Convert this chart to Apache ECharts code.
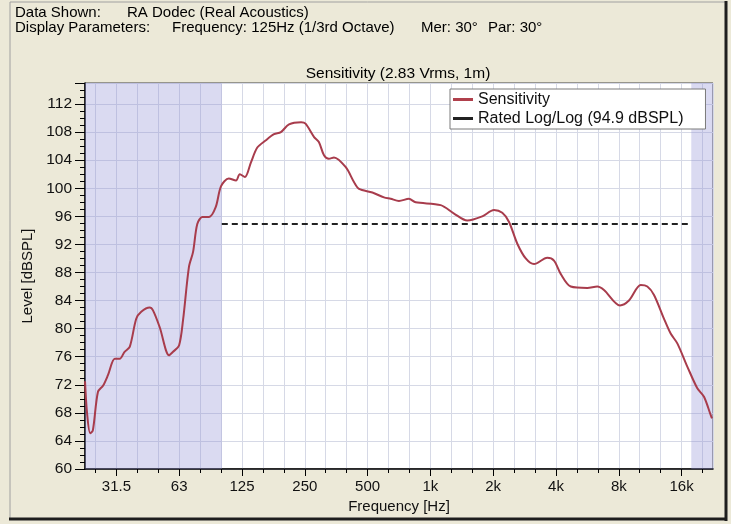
<!DOCTYPE html>
<html>
<head>
<meta charset="utf-8">
<script src="https://cdn.jsdelivr.net/npm/echarts@6/dist/echarts.min.js"></script>
<style>
html, body { margin: 0; padding: 0; background: #ece9d8; }
#sensChart { width: 731px; height: 524px; }
</style>
</head>
<body>
<div id="sensChart"></div>
<script>
// frequency points (Hz) and their level (dBSPL)
var freqHz = [
	22.1, 22.6, 23.4, 24.1, 25.5, 27.0, 28.5, 30.7, 32.4, 34.2,
	36.2, 38.9, 41.1, 45.1, 46.8, 50.4, 55.9, 58.4, 62.4, 65.2,
	69.6, 72.8, 76.3, 80.7, 86.9, 93.5, 99.2, 108, 117, 122,
	129, 138, 148, 162, 178, 192, 210, 240, 252, 277,
	292, 309, 326, 345, 393, 430, 455, 527, 599, 645,
	707, 789, 850, 1120, 1298, 1503, 1773, 2018, 2211, 2382,
	2610, 2864, 3138, 3633, 3912, 4213, 4705, 5650, 6311, 6793,
	8106, 8950, 10190, 10960, 11800, 13180, 14180, 15260, 17040, 19030,
	20490, 22050, 22380
];
var levelDb = [
	72.5, 68.0, 65.1, 65.5, 71.0, 71.9, 73.4, 75.7, 75.7, 76.7,
	77.4, 81.4, 82.4, 83.0, 82.6, 80.2, 76.2, 76.7, 77.6, 81.2,
	88.8, 90.9, 94.9, 95.9, 95.9, 97.3, 100.3, 101.4, 101.1, 102.0,
	101.6, 103.7, 105.8, 106.8, 107.7, 108.0, 109.1, 109.4, 109.2, 107.3,
	106.6, 104.7, 104.2, 104.4, 103.0, 100.9, 99.9, 99.4, 98.7, 98.5,
	98.2, 98.5, 98.0, 97.6, 96.4, 95.4, 96.0, 96.9, 96.5, 95.2,
	92.1, 90.0, 89.2, 90.1, 89.7, 87.8, 86.0, 85.8, 86.0, 85.5,
	83.3, 84.0, 86.2, 86.0, 84.8, 81.4, 79.3, 77.9, 74.6, 71.5,
	70.3, 67.7, 67.2
];

var ratedLevel = 94.9;
var ratedFromHz = 100;
var ratedToHz = 17800;
var shadeLowHz = [22.1, 100];
var shadeHighHz = [17800, 22627];

var octaveHz = [31.25, 62.5, 125, 250, 500, 1000, 2000, 4000, 8000, 16000];
var octaveLabels = ['31.5', '63', '125', '250', '500', '1k', '2k', '4k', '8k', '16k'];

var seriesNames = ['Sensitivity', 'Rated Log/Log (94.9 dBSPL)'];

var FONT = '"Liberation Sans", Arial, sans-serif';
var gridColor = '#d6d9e6';

// x axis runs in octaves relative to 1 kHz
function oct(f) {
	return Math.log2(f / 1000);
}

var thirdTicks = [];
for (var k = -16; k <= 13; k++) {
	thirdTicks.push(k / 3);
}

var sensData = freqHz.map(function (f, i) {
	return [oct(f), levelDb[i]];
});

var option = {
	animation: false,
	backgroundColor: '#ece9d8',
	textStyle: { fontFamily: FONT },
	grid: {
		left: 85,
		right: 18,
		top: 83,
		bottom: 55,
		show: true,
		backgroundColor: '#fff',
		borderColor: '#404040',
		borderWidth: 1
	},
	legend: {
		data: seriesNames,
		orient: 'vertical',
		left: 450,
		top: 89,
		icon: 'rect',
		itemWidth: 20,
		itemHeight: 3,
		itemGap: 2,
		padding: [2, 22, 2, 3],
		backgroundColor: '#fff',
		borderColor: '#7a7a7a',
		borderWidth: 1,
		selectedMode: false,
		textStyle: { fontSize: 16, color: '#111', fontFamily: FONT, lineHeight: 17 }
	},
	xAxis: [
		{
			// third-octave ticks
			type: 'value',
			min: -5.5,
			max: 4.5,
			axisLine: { onZero: false, lineStyle: { color: '#000', width: 1.5 } },
			axisTick: { customValues: thirdTicks, length: 4, lineStyle: { color: '#000' } },
			axisLabel: { show: false },
			splitLine: { show: false }
		},
		{
			// octave labels
			type: 'value',
			position: 'bottom',
			min: -5.5,
			max: 4.5,
			name: 'Frequency [Hz]',
			nameLocation: 'middle',
			nameGap: 27,
			nameTextStyle: { fontSize: 15, color: '#111', fontFamily: FONT },
			axisLine: { show: false, onZero: false },
			axisTick: { customValues: octaveHz.map(oct), length: 7, lineStyle: { color: '#000' } },
			axisLabel: {
				customValues: octaveHz.map(oct),
				margin: 10,
				fontSize: 15,
				color: '#111',
				fontFamily: FONT,
				formatter: function (v) {
					for (var i = 0; i < octaveHz.length; i++) {
						if (Math.abs(oct(octaveHz[i]) - v) < 0.01) return octaveLabels[i];
					}
					return '';
				}
			},
			splitLine: { show: false }
		},
		{
			// grid in third-octave steps: 30 steps across the 10 octaves
			type: 'value',
			position: 'bottom',
			min: -0.5,
			max: 29.5,
			splitNumber: 30,
			axisLine: { show: false, onZero: false },
			axisTick: { show: false },
			axisLabel: { show: false },
			splitLine: { show: true, lineStyle: { color: gridColor } }
		}
	],
	yAxis: {
		type: 'value',
		min: 60,
		max: 115,
		interval: 4,
		name: 'Level [dBSPL]',
		nameLocation: 'middle',
		nameGap: 48,
		nameTextStyle: { fontSize: 15, color: '#111', fontFamily: FONT },
		axisLine: { show: true, onZero: false, lineStyle: { color: '#000', width: 1.5 } },
		axisTick: { length: 10, lineStyle: { color: '#000' } },
		minorTick: { show: true, splitNumber: 4, length: 5, lineStyle: { color: '#000' } },
		axisLabel: { margin: 13, fontSize: 15.5, color: '#111', fontFamily: FONT, showMaxLabel: false },
		splitLine: { lineStyle: { color: gridColor } }
	},
	series: [
		{
			// shaded bands outside the rated range
			name: 'shade',
			type: 'line',
			data: [],
			z: 1,
			silent: true,
			markArea: {
				silent: true,
				itemStyle: { color: 'rgba(140,140,210,0.32)' },
				data: [
					[{ xAxis: oct(shadeLowHz[0]) }, { xAxis: oct(shadeLowHz[1]) }],
					[{ xAxis: oct(shadeHighHz[0]) }, { xAxis: oct(shadeHighHz[1]) }]
				]
			}
		},
		{
			name: seriesNames[0],
			type: 'line',
			z: 4,
			data: sensData,
			smooth: 0.3,
			showSymbol: false,
			color: '#b0404c',
			lineStyle: { color: '#a83c4c', width: 2 }
		},
		{
			name: seriesNames[1],
			type: 'line',
			z: 3,
			data: [[oct(ratedFromHz), ratedLevel], [oct(ratedToHz), ratedLevel]],
			showSymbol: false,
			color: '#222',
			lineStyle: { color: '#222', width: 2, type: [6, 4] }
		}
	],
	graphic: [
		{ type: 'line', shape: { x1: 10, y1: 2, x2: 725, y2: 2 }, style: { stroke: '#a0a0a0', lineWidth: 1 } },
		{ type: 'line', shape: { x1: 10, y1: 2, x2: 10, y2: 519 }, style: { stroke: '#a0a0a0', lineWidth: 1 } },
		{ type: 'line', shape: { x1: 726, y1: 1, x2: 726, y2: 521 }, style: { stroke: '#1e1e1e', lineWidth: 3 } },
		{ type: 'line', shape: { x1: 9, y1: 519, x2: 727, y2: 519 }, style: { stroke: '#1e1e1e', lineWidth: 3 } },
		{ type: 'text', x: 15, y: 13, style: { text: 'Data Shown:', fill: '#000', font: '15px ' + FONT, verticalAlign: 'middle' } },
		{ type: 'text', x: 127, y: 13, style: { text: 'RA Dodec (Real Acoustics)', fill: '#000', font: '15px ' + FONT, verticalAlign: 'middle' } },
		{ type: 'text', x: 15, y: 28, style: { text: 'Display Parameters:', fill: '#000', font: '15px ' + FONT, verticalAlign: 'middle' } },
		{ type: 'text', x: 172, y: 28, style: { text: 'Frequency: 125Hz (1/3rd Octave)', fill: '#000', font: '15px ' + FONT, verticalAlign: 'middle' } },
		{ type: 'text', x: 421, y: 28, style: { text: 'Mer: 30°', fill: '#000', font: '15px ' + FONT, verticalAlign: 'middle' } },
		{ type: 'text', x: 488, y: 28, style: { text: 'Par: 30°', fill: '#000', font: '15px ' + FONT, verticalAlign: 'middle' } },
		{ type: 'text', x: 398, y: 74, style: { text: 'Sensitivity (2.83 Vrms, 1m)', fill: '#000', font: '15.5px ' + FONT, align: 'center', verticalAlign: 'middle' } }
	]
};

var dom = document.getElementById('sensChart');
var myChart = echarts.init(dom);
myChart.setOption(option);
</script>
</body>
</html>
